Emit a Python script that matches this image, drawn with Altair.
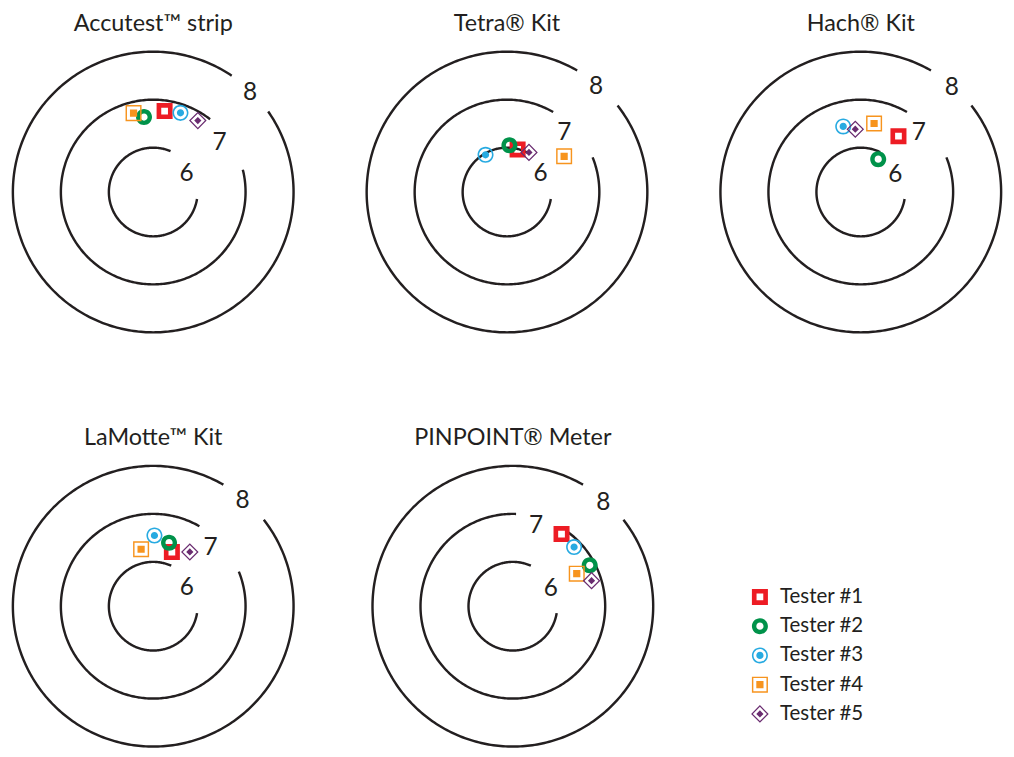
import altair as alt
import numpy as np
import pandas as pd

# ---------------- data ----------------
kits = ["Accutest™ strip", "Tetra® Kit", "Hach® Kit", "LaMotte™ Kit", "PINPOINT® Meter"]
testers = ["Tester #1", "Tester #2", "Tester #3", "Tester #4", "Tester #5"]

# pH reading for each tester (#1..#5) per kit
ph_accutest = [6.78, 6.65, 6.82, 6.77, 6.83]
ph_tetra = [5.99, 6.05, 5.97, 6.48, 6.02]
ph_hach = [6.48, 5.85, 6.49, 6.53, 6.39]
ph_lamotte = [6.27, 6.44, 6.55, 6.29, 6.44]
ph_pinpoint = [6.89, 6.89, 6.85, 6.57, 6.80]

# angular position (degrees, counter-clockwise from 3 o'clock) of each reading
ang_accutest = [82, 97, 71, 104, 58]
ang_tetra = [76, 87, 120, 32, 61]
ang_hach = [56, 62, 105, 79, 95]
ang_lamotte = [71, 76, 89, 102, 56]
ang_pinpoint = [56, 28, 44, 27, 18]

rings = [6, 7, 8]
ring_labels = ["6", "7", "8"]

readings = [ph_accutest, ph_tetra, ph_hach, ph_lamotte, ph_pinpoint]
angles = [ang_accutest, ang_tetra, ang_hach, ang_lamotte, ang_pinpoint]

# ---------------- layout / style ----------------
INK = "#231F20"
FONT = "Lato"
colors = ["#ED1C24", "#00924A", "#27AAE1", "#F7941E", "#6A2C70"]

# marker glyphs (filled paths with holes; nonzero winding)
def circ(r, cw=True):
    s = 1 if cw else 0
    return f"M{-r},0 A{r},{r} 0 1,{s} {r},0 A{r},{r} 0 1,{s} {-r},0 Z "

def sq(r, cw=True):
    if cw:
        return f"M{-r},{-r} L{r},{-r} L{r},{r} L{-r},{r} Z "
    return f"M{-r},{-r} L{-r},{r} L{r},{r} L{r},{-r} Z "

def dia(r, cw=True):
    if cw:
        return f"M0,{-r} L{r},0 L0,{r} L{-r},0 Z "
    return f"M0,{-r} L{-r},0 L0,{r} L{r},0 Z "

shapes = [
    sq(1) + sq(0.42, False),
    circ(1) + circ(0.45, False),
    circ(1) + circ(0.8, False) + circ(0.45),
    sq(1) + sq(0.82, False) + sq(0.45),
    dia(1.1) + dia(0.88, False) + dia(0.45),
]
MARK_SIZE = 270

PX_PER_PH = 49.25          # radial pixels per pH unit
PH0 = 6 - 45.5 / PX_PER_PH  # pH value at the target centre
PANEL = 294
HALF = (PANEL / 2) / PX_PER_PH

# gaps in each ring (degrees) for rings 6, 7, 8 and label angle / inset (px)
gaps = [
    [(-9, 67), (14, 52), (35, 56)],
    [(-9, 62), (22, 60), (38, 60)],
    [(-9, 64), (22, 60), (38, 60)],
    [(-9, 66), (22, 60), (38, 60)],
    [(-9, 66), (54, 88), (38, 60)],
]
label_ang = [
    [30, 37, 46],
    [29, 46, 50],
    [28, 46, 49],
    [29, 46, 50],
    [25, 74, 49],
]
label_inset = [
    [6, 9.5, 1],
    [6, 10, 2],
    [5.5, 9, 1.5],
    [6, 10, 1.5],
    [2.5, 8, 2.5],
]

sx = alt.Scale(domain=[-HALF, HALF], nice=False, zero=False)
sy = alt.Scale(domain=[-HALF, HALF], nice=False, zero=False)
color_scale = alt.Scale(domain=testers, range=colors)
shape_scale = alt.Scale(domain=testers, range=shapes)


def panel(i):
    # rings
    rows = []
    for v, (g0, g1) in zip(rings, gaps[i]):
        r = v - PH0
        for k, a in enumerate(np.arange(g1, g0 + 360 + 0.001, 1.0)):
            t = np.deg2rad(a)
            rows.append({"ring": v, "k": k, "x": r * np.cos(t), "y": r * np.sin(t)})
    ring_df = pd.DataFrame(rows)

    lab_rows = []
    for v, lab, a, ins in zip(rings, ring_labels, label_ang[i], label_inset[i]):
        r = v - PH0 - ins / PX_PER_PH
        t = np.deg2rad(a)
        lab_rows.append({"label": lab, "x": r * np.cos(t), "y": r * np.sin(t)})
    lab_df = pd.DataFrame(lab_rows)

    pt_rows = []
    for name, ph, a in zip(testers, readings[i], angles[i]):
        r = ph - PH0
        t = np.deg2rad(a)
        pt_rows.append({"tester": name, "pH": ph, "x": r * np.cos(t), "y": r * np.sin(t)})
    pt_df = pd.DataFrame(pt_rows)

    X = alt.X("x:Q", scale=sx, axis=None)
    Y = alt.Y("y:Q", scale=sy, axis=None)

    lines = alt.Chart(ring_df).mark_line(color=INK, strokeWidth=2.5, strokeCap="butt").encode(
        x=X, y=Y, detail="ring:N", order="k:Q"
    )
    labels = alt.Chart(lab_df).mark_text(
        font=FONT, fontSize=25, color=INK, align="center", baseline="middle"
    ).encode(x=X, y=Y, text="label:N")
    pts = alt.Chart(pt_df).mark_point(filled=True, size=MARK_SIZE, opacity=1, strokeWidth=0).encode(
        x=X,
        y=Y,
        color=alt.Color(
            "tester:N",
            scale=color_scale,
            legend=alt.Legend(
                title=None,
                orient="none",
                legendX=759,
                legendY=552,
                symbolSize=MARK_SIZE,
                symbolStrokeWidth=0,
                labelFont=FONT,
                labelFontSize=21,
                labelColor=INK,
                labelOffset=10,
                rowPadding=8,
            ),
        ),
        shape=alt.Shape("tester:N", scale=shape_scale, legend=None),
    )
    return alt.layer(lines, labels, pts).properties(
        width=PANEL,
        height=PANEL,
        title=alt.TitleParams(
            kits[i], font=FONT, fontSize=24, fontWeight="normal", color=INK, offset=11, anchor="middle"
        ),
    )


row1 = alt.hconcat(panel(0), panel(1), panel(2), spacing=65)
row2 = alt.hconcat(panel(3), panel(4), spacing=71)
chart = (
    alt.vconcat(row1, row2, spacing=92)
    .properties(padding={"left": 0, "top": -5, "right": 0, "bottom": 0}, background="white")
    .configure_view(stroke=None)
)

chart.save("out.html", embed_options={"renderer": "svg", "actions": False})
